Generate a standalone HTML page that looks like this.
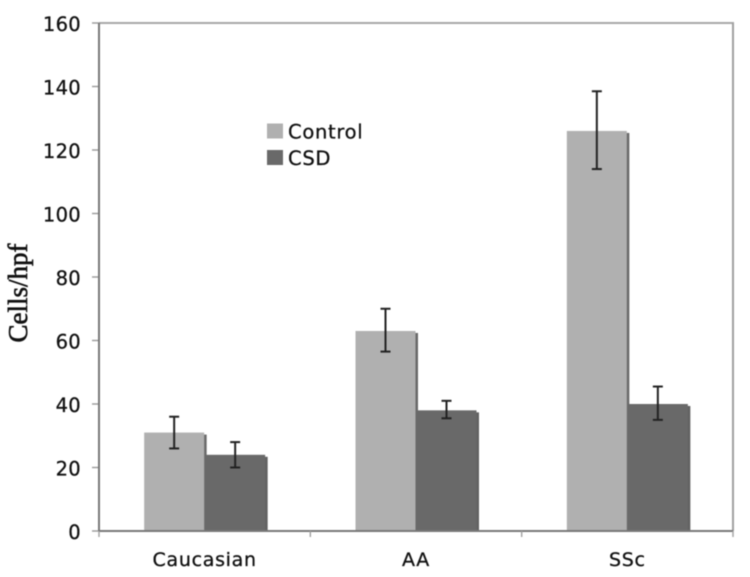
<!DOCTYPE html>
<html>
<head>
<meta charset="utf-8">
<style>
html,body{margin:0;padding:0;background:#fff;width:750px;height:577px;overflow:hidden}
svg{display:block;filter:blur(0.45px)}
text{font-family:"DejaVu Sans","Liberation Sans",sans-serif;fill:#111;stroke:#111;stroke-width:0.3}
</style>
</head>
<body>
<svg id="chart" width="750" height="577" viewBox="0 0 750 577" xmlns="http://www.w3.org/2000/svg"></svg>
<script>
const categories = ["Caucasian", "AA", "SSc"];
const controlValues = [31, 63, 126];
const csdValues = [24, 38, 40];
const controlUpper = [36, 70, 138.5];
const controlLower = [26, 56.5, 114];
const csdUpper = [28, 41, 45.5];
const csdLower = [20, 35.5, 35];
const yTicks = [0, 20, 40, 60, 80, 100, 120, 140, 160];
const seriesNames = ["Control", "CSD"];

const NS = "http://www.w3.org/2000/svg";
const svg = document.getElementById("chart");
const plotLeft = 99, plotRight = 733, plotTop = 23, plotBottom = 531, yMax = 160;
const yScale = v => plotBottom - (v / yMax) * (plotBottom - plotTop);
const bandWidth = (plotRight - plotLeft) / categories.length;
const bandLeft = i => plotLeft + i * bandWidth;
const barWidth = 60;
const controlX = i => bandLeft(i) + bandWidth / 2 - barWidth - 0.5;
const csdX = i => bandLeft(i) + bandWidth / 2 + 0.5;

function make(tag, attrs, text) {
  const el = document.createElementNS(NS, tag);
  for (const k in attrs) el.setAttribute(k, attrs[k]);
  if (text !== undefined) el.textContent = text;
  svg.appendChild(el);
  return el;
}

// frame lines
let el = make("line", {x1: plotLeft, y1: plotTop, x2: plotRight + 1, y2: plotTop, stroke: "#a8a8a8", "stroke-width": 2});


el = make("line", {x1: plotRight, y1: plotTop, x2: plotRight, y2: plotBottom, stroke: "#a0a0a0", "stroke-width": 2});



// y ticks and labels
yTicks.forEach(t => {
  const y = yScale(t);
  const tick = make("line", {x1: plotLeft - 7, y1: y, x2: plotLeft, y2: y, stroke: "#999", "stroke-width": 1.4});
  
  
  const label = make("text", {x: 81, y: y + 8, "text-anchor": "end", "font-size": 19.5, "letter-spacing": 0.3}, String(t));
  
  
});

// bars
function drawBar(x, value, fill, shadow, name) {
  const top = yScale(value);
  const s = make("rect", {x: x + barWidth - 0.5, y: top + 2, width: 3, height: plotBottom - top - 2, fill: shadow});
  
  
  const b = make("rect", {x: x, y: top, width: barWidth, height: plotBottom - top, fill: fill});
  
  
}
function drawError(cx, upper, lower, name) {
  const yU = yScale(upper), yL = yScale(lower);
  [[cx, yU, cx, yL], [cx - 5, yU, cx + 5, yU], [cx - 5, yL, cx + 5, yL]].forEach(c => {
    const l = make("line", {x1: c[0], y1: c[1], x2: c[2], y2: c[3], stroke: "#222", "stroke-width": 2});
    
    
  });
}
categories.forEach((c, i) => {
  drawBar(controlX(i), controlValues[i], "#b0b0b0", "#696969", "bar-control-" + c.toLowerCase());
  drawBar(csdX(i), csdValues[i], "#696969", "#626262", "bar-csd-" + c.toLowerCase());
});
categories.forEach((c, i) => {
  drawError(controlX(i) + barWidth / 2, controlUpper[i], controlLower[i], "error-bar-control-" + c.toLowerCase());
  drawError(csdX(i) + barWidth / 2, csdUpper[i], csdLower[i], "error-bar-csd-" + c.toLowerCase());
});

// axes
el = make("line", {x1: plotLeft, y1: plotTop, x2: plotLeft, y2: plotBottom, stroke: "#787878", "stroke-width": 2});


el = make("line", {x1: plotLeft, y1: plotBottom, x2: plotRight, y2: plotBottom, stroke: "#787878", "stroke-width": 2});



// x ticks and labels
for (let i = 0; i <= categories.length; i++) {
  const t = make("line", {x1: bandLeft(i), y1: plotBottom, x2: bandLeft(i), y2: plotBottom + 6, stroke: "#a0a0a0", "stroke-width": 1.4});
  
  
}
categories.forEach((c, i) => {
  const l = make("text", {x: bandLeft(i) + bandWidth / 2, y: 566, "text-anchor": "middle", "font-size": 19, "letter-spacing": 0.7}, c);
  
  
});

// y axis title
el = make("text", {x: 0, y: 0, transform: "translate(27,293) rotate(-90)", "text-anchor": "middle", "font-size": 27, style: 'font-family:"Liberation Serif",serif;stroke:#111;stroke-width:0.6'}, "Cells/hpf");



// legend
const legendFills = ["#b0b0b0", "#696969"];
seriesNames.forEach((n, i) => {
  const y = 123.5 + i * 26.5;
  const r = make("rect", {x: 267, y: y, width: 16, height: 15, fill: legendFills[i]});
  
  
  const t = make("text", {x: 288, y: y + 15, "font-size": 19.5, "letter-spacing": 0.7}, n);
  
  
});
</script>
</body>
</html>
